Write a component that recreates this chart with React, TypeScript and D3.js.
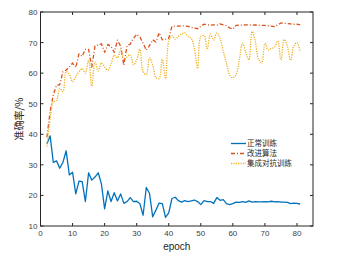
import React from "react";
import * as d3 from "d3";

const epochs: number[] = d3.range(2, 82);

const normalTraining: number[] = [
  36.8, 39.5, 30.8, 31.3, 28.9, 30.8, 34.6, 26.7, 27.6, 20.5,
  24.7, 24.5, 18.0, 27.4, 25.0, 26.0, 27.4, 23.8, 15.6, 21.5,
  18.0, 20.9, 18.2, 20.5, 17.4, 18.0, 19.3, 18.0, 18.1, 17.3,
  13.5, 22.6, 20.7, 13.0, 15.2, 17.5, 17.3, 12.8, 14.3, 19.0,
  19.4, 18.3, 17.8, 18.3, 18.0, 18.2, 18.5, 18.0, 17.0, 18.3,
  18.0, 18.0, 17.4, 19.3, 18.4, 18.6, 17.3, 17.0, 17.3, 17.8,
  17.7, 18.0, 17.7, 18.2, 17.8, 18.0, 17.9, 17.9, 18.0, 17.9,
  18.1, 17.9, 18.0, 17.8, 17.8, 17.7, 17.3, 17.5, 17.4, 17.2,
];

const improvedAlgorithm: number[] = [
  39.0, 47.5, 53.0, 56.0, 56.2, 60.5, 61.0, 62.0, 63.3, 61.8,
  66.3, 65.5, 67.8, 67.8, 62.0, 68.9, 69.2, 69.6, 66.8, 69.4,
  68.7, 66.8, 70.8, 68.8, 62.6, 69.0, 69.5, 71.4, 72.7, 71.8,
  69.8, 67.5, 69.0, 70.9, 70.2, 73.2, 70.9, 71.1, 71.4, 75.3,
  75.4, 75.4, 75.5, 75.4, 75.3, 75.0, 74.8, 74.5, 75.3, 76.0,
  75.8, 75.7, 75.8, 75.7, 76.1, 75.8, 75.5, 74.8, 74.4, 75.6,
  75.7, 75.7, 75.8, 75.8, 75.7, 75.8, 75.7, 75.6, 75.6, 75.5,
  75.4, 75.2, 75.8, 76.4, 76.3, 76.2, 76.1, 76.0, 76.0, 75.8,
];

const ensembleAdversarial: number[] = [
  36.0, 45.0, 50.5, 51.0, 55.0, 54.0, 60.5, 59.5, 57.2, 58.8,
  60.5, 61.5, 60.0, 64.3, 55.8, 63.7, 60.7, 63.4, 62.0, 61.0,
  63.0, 65.9, 65.0, 67.5, 64.3, 65.3, 66.0, 62.7, 64.3, 67.8,
  60.5, 59.5, 65.0, 62.7, 58.6, 58.2, 64.5, 58.2, 70.5, 72.3,
  71.1, 72.0, 72.8, 73.2, 72.0, 71.4, 68.1, 61.5, 72.0, 72.3,
  67.8, 72.8, 70.8, 73.2, 71.4, 67.3, 63.2, 59.4, 58.5, 59.5,
  64.3, 69.8, 67.0, 64.3, 73.6, 70.3, 64.5, 63.4, 69.8, 67.6,
  68.1, 68.5, 70.5, 64.3, 71.0, 68.8, 64.2, 68.8, 70.0, 67.0,
];

const xTicks: number[] = [0, 10, 20, 30, 40, 50, 60, 70, 80];
const yTicks: number[] = [10, 20, 30, 40, 50, 60, 70, 80];

const seriesNames: string[] = ["正常训练", "改进算法", "集成对抗训练"];
const seriesColors: string[] = ["#0072BD", "#D95319", "#EDB120"];
const seriesDash: string[] = ["none", "4 2 1 2", "1.2 1.2"];

export default function App() {
  const W = 353;
  const H = 259;
  const left = 40.5;
  const right = 313;
  const top = 12;
  const bottom = 226;

  const x = d3.scaleLinear().domain([0, 85]).range([left, right]);
  const y = d3.scaleLinear().domain([10, 80]).range([bottom, top]);

  const allSeries = [normalTraining, improvedAlgorithm, ensembleAdversarial];
  const curves = [d3.curveLinear, d3.curveLinear, d3.curveCatmullRom.alpha(0.5)];

  const paths = allSeries.map((vals, i) =>
    d3
      .line<number>()
      .x((_, j) => x(epochs[j]))
      .y((v) => y(v))
      .curve(curves[i])(vals) as string
  );

  const tickLen = 3;
  const tickFont = "Liberation Sans, Arial, sans-serif";

  return (
    <svg
      width={W}
      height={H}
      style={{ position: "absolute", left: 0, top: 0, background: "#fff" }}
    >
      <defs>
        <clipPath id="plotClip">
          <rect x={left} y={top} width={right - left} height={bottom - top} />
        </clipPath>
      </defs>

      {/* data lines */}
      <g clipPath="url(#plotClip)">
        {paths.map((d, i) => (
          <path
            key={i}
            d={d}
            fill="none"
            stroke={seriesColors[i]}
            strokeWidth={1.3}
            strokeDasharray={seriesDash[i]}
            strokeLinejoin="round"
          />
        ))}
      </g>

      {/* box */}
      <rect
        x={left}
        y={top}
        width={right - left}
        height={bottom - top}
        fill="none"
        stroke="#262626"
        strokeWidth={1}
      />

      {/* x ticks */}
      {xTicks.map((t) => (
        <g key={"x" + t}>
          <line x1={x(t)} x2={x(t)} y1={bottom} y2={bottom - tickLen} stroke="#262626" />
          <line x1={x(t)} x2={x(t)} y1={top} y2={top + tickLen} stroke="#262626" />
          <text
            x={x(t)}
            y={bottom + 10}
            textAnchor="middle"
            fontSize={8}
            fill="#404040"
            fontFamily={tickFont}
          >
            {t}
          </text>
        </g>
      ))}

      {/* y ticks */}
      {yTicks.map((t) => (
        <g key={"y" + t}>
          <line x1={left} x2={left + tickLen} y1={y(t)} y2={y(t)} stroke="#262626" />
          <line x1={right} x2={right - tickLen} y1={y(t)} y2={y(t)} stroke="#262626" />
          <text
            x={left - 3}
            y={y(t) + 3}
            textAnchor="end"
            fontSize={8}
            fill="#404040"
            fontFamily={tickFont}
          >
            {t}
          </text>
        </g>
      ))}

      {/* axis labels */}
      <text
        x={(left + right) / 2}
        y={250}
        textAnchor="middle"
        fontSize={10}
        fill="#262626"
        fontFamily={tickFont}
      >
        epoch
      </text>
      <text
        transform={`translate(23, ${(top + bottom) / 2}) rotate(-90)`}
        textAnchor="middle"
        fontSize={10}
        fill="#262626"
        fontFamily="Noto Sans CJK SC, sans-serif"
      >
        准确率/%
      </text>

      {/* legend */}
      {seriesNames.map((name, i) => {
        const ly = 143.5 + i * 10;
        return (
          <g key={"lg" + i}>
            <line
              x1={231}
              x2={246}
              y1={ly}
              y2={ly}
              stroke={seriesColors[i]}
              strokeWidth={1.3}
              strokeDasharray={seriesDash[i]}
            />
            <text
              x={247}
              y={ly + 2.6}
              fontSize={7.5}
              fill="#262626"
              fontFamily="Noto Sans CJK SC, sans-serif"
            >
              {name}
            </text>
          </g>
        );
      })}
    </svg>
  );
}
